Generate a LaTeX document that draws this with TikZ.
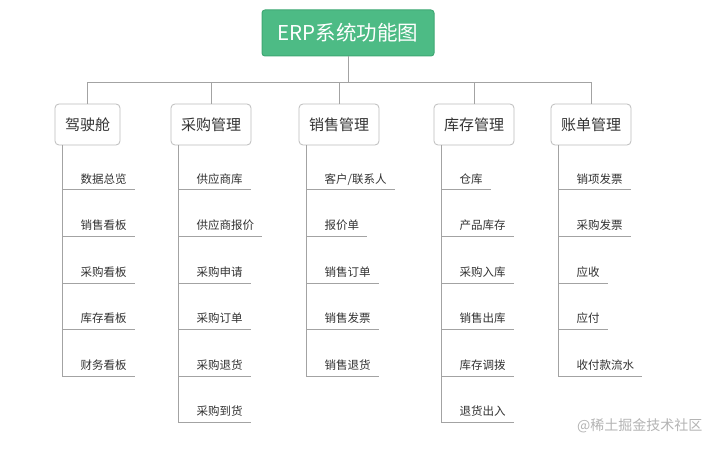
\documentclass[tikz,border=0pt]{standalone}
\usepackage{fontspec}
\setmainfont{Noto Sans CJK SC}
\usetikzlibrary{positioning}
\definecolor{rootgreen}{HTML}{4DBB85}
\definecolor{rootedge}{HTML}{3FA874}
\definecolor{boxgray}{HTML}{BDBDBD}
\definecolor{linegray}{HTML}{A3A3A3}
\definecolor{textgray}{HTML}{333333}
\definecolor{wmgray}{HTML}{B4B4B4}

\begin{document}
\begin{tikzpicture}[
    x=1pt, y=-1pt,
    root/.style={rectangle, rounded corners=3pt, draw=rootedge, fill=rootgreen, line width=1pt, text=white, font=\fontsize{20.5}{24}\selectfont, minimum width=172pt, minimum height=46pt},
    module/.style={rectangle, rounded corners=4pt, draw=boxgray, fill=white, line width=0.8pt, text=textgray, font=\fontsize{15}{18}\selectfont, inner xsep=10pt, minimum height=41pt},
    item/.style={anchor=south west, inner xsep=0pt, inner ysep=0pt, text height=9pt, text depth=6.5pt, text=textgray, font=\fontsize{11.5}{14}\selectfont},
    line/.style={draw=linegray, line width=1pt}
]
    \path[fill=white, use as bounding box] (0,0) rectangle (720,449);

    % Top level
    \node[root] (erp) at (348,33) {ERP系统功能图};
    \node[module] (cockpit) at (87.5,124.5) {驾驶舱};
    \node[module] (purchase) at (211,124.5) {采购管理};
    \node[module] (sales) at (339,124.5) {销售管理};
    \node[module] (stock) at (474,124.5) {库存管理};
    \node[module] (bill) at (591,124.5) {账单管理};

    % Connections
    \foreach \m in {cockpit,purchase,sales,stock,bill}
        \draw[line] (erp.south) -- ++(0,26) -| (\m.north);

    % Items
    \foreach \t [count=\i] in {数据总览,销售看板,采购看板,库存看板,财务看板} {
        \node[item] (ck\i) at (80.5,143.5+46.5*\i) {\t};
        \draw[line] ([xshift=8pt]cockpit.south west) |- ([xshift=8pt]ck\i.south east);
    }
    \foreach \t [count=\i] in {供应商库,供应商报价,采购申请,采购订单,采购退货,采购到货} {
        \node[item] (pu\i) at (196.5,143.5+46.5*\i) {\t};
        \draw[line] ([xshift=8pt]purchase.south west) |- ([xshift=8pt]pu\i.south east);
    }
    \foreach \t [count=\i] in {客户/联系人,报价单,销售订单,销售发票,销售退货} {
        \node[item] (sa\i) at (324.5,143.5+46.5*\i) {\t};
        \draw[line] ([xshift=8pt]sales.south west) |- ([xshift=8pt]sa\i.south east);
    }
    \foreach \t [count=\i] in {仓库,产品库存,采购入库,销售出库,库存调拨,退货出入} {
        \node[item] (st\i) at (459.5,143.5+46.5*\i) {\t};
        \draw[line] ([xshift=8pt]stock.south west) |- ([xshift=8pt]st\i.south east);
    }
    \foreach \t [count=\i] in {销项发票,采购发票,应收,应付,收付款流水} {
        \node[item] (bi\i) at (576.5,143.5+46.5*\i) {\t};
        \draw[line] ([xshift=8pt]bill.south west) |- ([xshift=8pt]bi\i.south east);
    }

    \node[anchor=east, text=wmgray, font=\fontsize{14}{16}\selectfont] (mark) at (706,426) {@稀土掘金技术社区};
\end{tikzpicture}
\end{document}
